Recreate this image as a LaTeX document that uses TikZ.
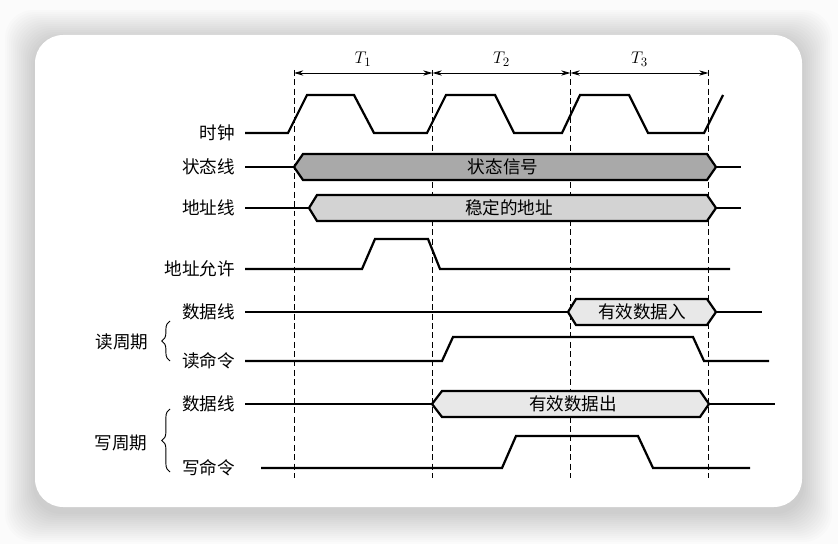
\documentclass[tikz,border=0pt]{standalone}
\usepackage{fontspec}
\newfontfamily\cjk{Noto Sans CJK SC}
\usetikzlibrary{arrows.meta,decorations.pathreplacing}

\definecolor{stategray}{HTML}{A9A9A9}
\definecolor{addrgray}{HTML}{D3D3D3}
\definecolor{datagray}{HTML}{E8E8E8}

\begin{document}
\begin{tikzpicture}[x=0.03cm, y=-0.03cm, font=\cjk\fontsize{15}{18}\selectfont,
  sig/.style={line width=1.9pt, line join=miter},
  guide/.style={line width=0.75pt, dash pattern=on 5pt off 3pt},
  period/.style={line width=0.75pt, {Stealth[length=8pt,width=4.5pt]}-{Stealth[length=8pt,width=4.5pt]}},
  lbl/.style={anchor=east, inner sep=0pt},
  grp/.style={decorate, decoration={brace, amplitude=7pt}, line width=0.8pt}]
  \useasboundingbox (0,0) rectangle (838,544);

  % Fondo y tarjeta
  \fill[gray!3] (0,0) rectangle (838,544);
  \foreach \d in {2,4,...,30}
    \fill[black, opacity=0.01, rounded corners=24pt] (35-\d,40-\d) rectangle (802+\d,512+\d);
  \fill[white, rounded corners=24pt] (35,35) rectangle (802,507);

  % Lineas guia y periodos
  \coordinate (m0) at (294,73);
  \coordinate (m1) at (432.5,73);
  \coordinate (m2) at (570.5,73);
  \coordinate (m3) at (708.5,73);
  \draw[guide] (294,70) -- (294,478);
  \draw[guide] (432.5,70) -- (432.5,478);
  \draw[guide] (570.5,70) -- (570.5,478);
  \draw[guide] (708.5,70) -- (708.5,478);
  \draw[period] (m0) -- (m1);
  \draw[period] (m1) -- (m2);
  \draw[period] (m2) -- (m3);
  \node[font=\fontsize{15}{17}\selectfont] (t1) at (363,59) {$T_1$};
  \node[font=\fontsize{15}{17}\selectfont] (t2) at (501.5,59) {$T_2$};
  \node[font=\fontsize{15}{17}\selectfont] (t3) at (639.5,59) {$T_3$};

  % Etiquetas
  \node[lbl] (clk) at (235,133) {时钟};
  \node[lbl] (stat) at (235,167) {状态线};
  \node[lbl] (addr) at (235,208) {地址线};
  \node[lbl] (ale) at (235,269) {地址允许};
  \node[lbl] (rdata) at (235,312) {数据线};
  \node[lbl] (rcmd) at (235,361) {读命令};
  \node[lbl] (wdata) at (235,404) {数据线};
  \node[lbl] (wcmd) at (235,468) {写命令};
  \node (rcyc) at (122,342) {读周期};
  \node (wcyc) at (121,443) {写周期};
  \draw[grp] (170,361) -- (170,321);
  \draw[grp] (170,472) -- (170,409);

  % Reloj
  \draw[sig] (245,133) -- (288,133) -- (307,95) -- (354,95) -- (374,133)
    -- (427,133) -- (446,95) -- (495,95) -- (514,133)
    -- (562,133) -- (580,95) -- (629,95) -- (648,133)
    -- (704,133) -- (723,95);

  % Estado
  \draw[sig] (245,167) -- (294,167);
  \draw[sig, fill=stategray] (294,167) -- (303,154) -- (707,154) -- (716,167) -- (707,180) -- (303,180) -- cycle;
  \draw[sig] (716,167) -- (741,167);
  \node (stattxt) at (503,167) {状态信号};

  % Direccion
  \draw[sig] (245,208) -- (309,208);
  \draw[sig, fill=addrgray] (309,208) -- (317,195) -- (707,195) -- (716,208) -- (707,221) -- (317,221) -- cycle;
  \draw[sig] (716,208) -- (741,208);
  \node (addrtxt) at (509,208) {稳定的地址};

  % Direccion permitida
  \draw[sig] (245,269) -- (362,269) -- (375,239) -- (428,239) -- (440,269) -- (730,269);

  % Ciclo de lectura
  \draw[sig] (245,312) -- (568,312);
  \draw[sig, fill=datagray] (568,312) -- (576,299) -- (707,299) -- (716,312) -- (707,325) -- (576,325) -- cycle;
  \draw[sig] (716,312) -- (762,312);
  \node (rdtxt) at (642,312) {有效数据入};
  \draw[sig] (245,361) -- (442,361) -- (453,337) -- (693,337) -- (704,361) -- (769,361);

  % Ciclo de escritura
  \draw[sig] (245,404) -- (432,404);
  \draw[sig, fill=datagray] (432,404) -- (442,391) -- (700,391) -- (709,404) -- (700,417) -- (442,417) -- cycle;
  \draw[sig] (709,404) -- (775,404);
  \node (wdtxt) at (573,404) {有效数据出};
  \draw[sig] (261,468) -- (502,468) -- (516,436) -- (638,436) -- (653,468) -- (750,468);
\end{tikzpicture}
\end{document}
